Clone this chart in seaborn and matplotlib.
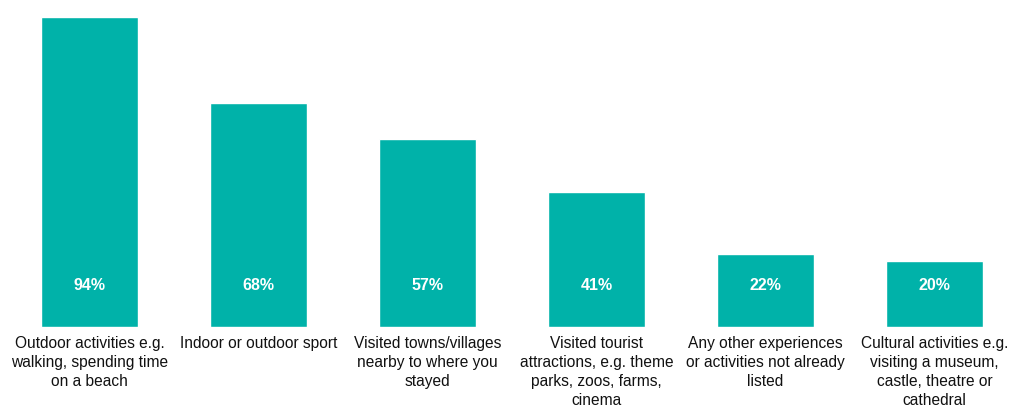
import matplotlib
matplotlib.use("Agg")
import matplotlib.pyplot as plt
import seaborn as sns
import pandas as pd

categories = [
    "Outdoor activities e.g.\nwalking, spending time\non a beach",
    "Indoor or outdoor sport",
    "Visited towns/villages\nnearby to where you\nstayed",
    "Visited tourist\nattractions, e.g. theme\nparks, zoos, farms,\ncinema",
    "Any other experiences\nor activities not already\nlisted",
    "Cultural activities e.g.\nvisiting a museum,\ncastle, theatre or\ncathedral",
]
values = [94, 68, 57, 41, 22, 20]
value_labels = ["94%", "68%", "57%", "41%", "22%", "20%"]

df = pd.DataFrame({"category": categories, "value": values})

sns.set_theme(style="white")
plt.rcParams["font.family"] = ["Liberation Sans", "DejaVu Sans"]

fig = plt.figure(figsize=(10.11, 4.06), dpi=100)
ax = fig.add_axes([5 / 1011, 78 / 406, 1006 / 1011, 310 / 406])

sns.barplot(data=df, x="category", y="value", color="#00B2A9",
            saturation=1, width=0.574, ax=ax)

ax.set_xlim(-0.5, -0.5 + 1006 / 169)
ax.set_ylim(0, 94)

for i, lab in enumerate(value_labels):
    ax.text(i, 13, lab, ha="center", va="center", color="white",
            fontsize=11.5, fontweight="bold")

ax.set_xlabel("")
ax.set_ylabel("")
ax.set_yticks([])
ax.tick_params(axis="x", length=0, pad=6, labelsize=11.2, colors="#111111")
for t in ax.get_xticklabels():
    t.set_linespacing(1.32)
for s in ax.spines.values():
    s.set_visible(False)

fig.savefig("out.png", dpi=100)
